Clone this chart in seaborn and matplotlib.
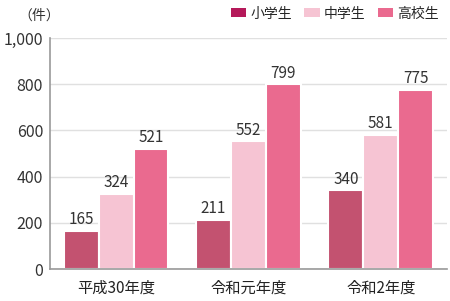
import matplotlib
matplotlib.use("Agg")
import matplotlib.pyplot as plt
import seaborn as sns
import pandas as pd

categories = ["平成30年度", "令和元年度", "令和2年度"]
series = ["小学生", "中学生", "高校生"]
elementary = [165, 211, 340]
junior = [324, 552, 581]
high = [521, 799, 775]
yticks = [0, 200, 400, 600, 800, 1000]
ytick_labels = ["0", "200", "400", "600", "800", "1,000"]

bar_colors = ["#C35270", "#F6C4D3", "#EA6A8F"]
legend_colors = ["#B5195A", "#F6C4D3", "#EA6A8F"]

sns.set_theme(style="white")
plt.rcParams['font.family'] = ['Noto Sans CJK JP', 'DejaVu Sans']

rows = []
for s, vals in zip(series, [elementary, junior, high]):
    for c, v in zip(categories, vals):
        rows.append({"year": c, "school": s, "count": v})
df = pd.DataFrame(rows)

fig = plt.figure(figsize=(4.5, 3.01), dpi=100)
ax = fig.add_axes([0.111, 0.1063, 0.882, 0.7675])
sns.barplot(data=df, x="year", y="count", hue="school", order=categories,
            hue_order=series, palette=bar_colors, width=0.79,
            edgecolor="white", linewidth=1.5, saturation=1, ax=ax, legend=False)

for cont in ax.containers:
    ax.bar_label(cont, fmt="%d", padding=2, fontsize=11, color="#333333")

ax.set_ylim(0, 1000)
ax.set_yticks(yticks)
ax.set_yticklabels(ytick_labels, fontsize=11.5, color="#333333")
ax.set_xlim(-0.5, 2.5)
ax.set_xticks([0, 1, 2])
ax.set_xticklabels(categories, fontsize=11, color="#222222")
ax.set_xticks([0.5, 1.5], minor=True)
ax.tick_params(axis="x", which="major", length=0, pad=8)
ax.tick_params(axis="x", which="minor", length=5, direction="in", color="#999999", width=1.2)
ax.tick_params(axis="y", length=0, pad=5)
ax.set_xlabel("")
ax.set_ylabel("")
ax.yaxis.grid(True, color="#E0E0E0", linewidth=1)
ax.set_axisbelow(True)
for side in ["top", "right"]:
    ax.spines[side].set_visible(False)
for side in ["left", "bottom"]:
    ax.spines[side].set_color("#999999")
    ax.spines[side].set_linewidth(1.2)

fig.text(0.04, 0.948, "（件）", fontsize=10, color="#333333", ha="left", va="center")

from matplotlib.patches import Patch
handles = [Patch(facecolor=c, edgecolor="none") for c in legend_colors]
fig.legend(handles, series, loc="upper right", bbox_to_anchor=(1.0, 1.015), ncol=3,
           frameon=False, fontsize=10, handlelength=1.1, handleheight=0.6,
           handletextpad=0.3, columnspacing=0.9, borderpad=0.3)

fig.savefig("out.png", dpi=100)
